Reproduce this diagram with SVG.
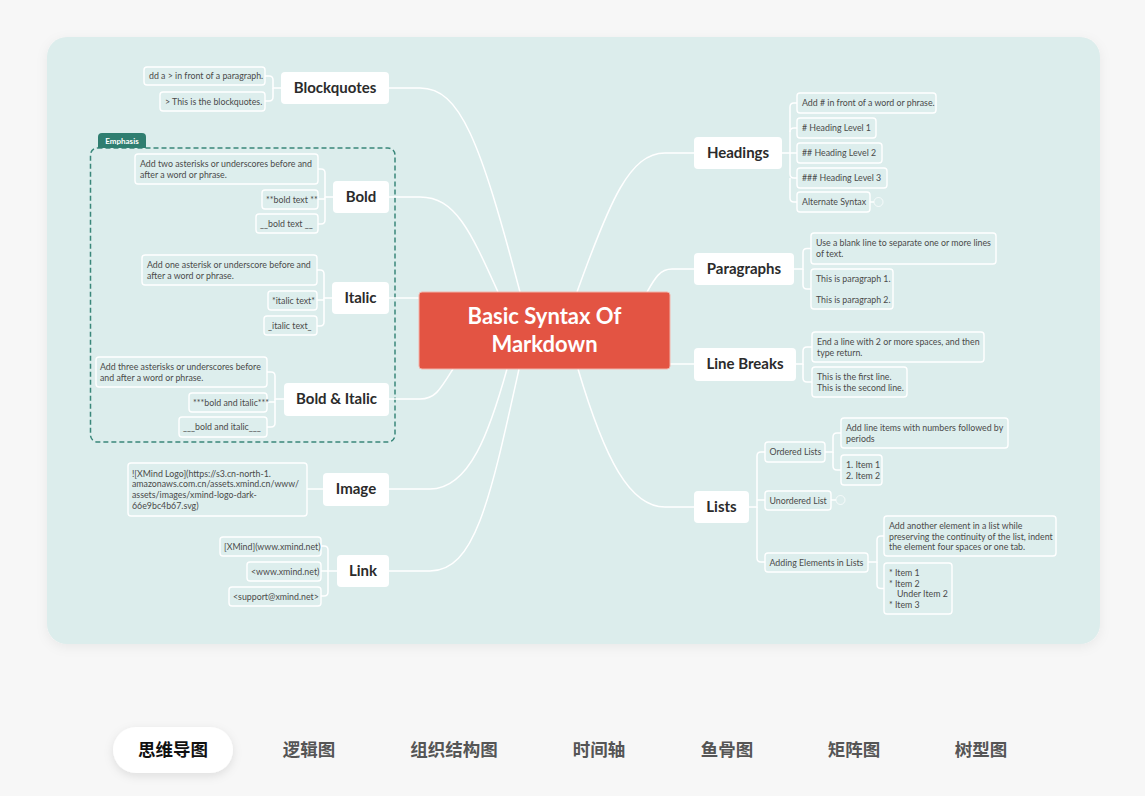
<svg xmlns="http://www.w3.org/2000/svg" width="1145" height="796" viewBox="0 0 1145 796">
<defs>
<filter id="sh" x="-10%" y="-10%" width="120%" height="130%">
<feDropShadow dx="0" dy="3" stdDeviation="6" flood-color="#000" flood-opacity="0.06"/>
</filter>
<filter id="sh2" x="-30%" y="-40%" width="160%" height="190%">
<feDropShadow dx="0" dy="3" stdDeviation="5" flood-color="#000" flood-opacity="0.10"/>
</filter>
<style>
.main rect{fill:#fff;}
.main text{font-family:Lato,"Open Sans",sans-serif;font-weight:700;font-size:15px;fill:#2b2b2b;text-anchor:middle;}
.leaf rect{fill:#ddeeed;stroke:#fff;stroke-width:1.4;}
.leaf text{font-family:Lato,"Open Sans",sans-serif;font-size:8.8px;fill:#4a4a4a;}
.conn path{fill:none;stroke:#fff;stroke-width:1.5;}
.tab{font-family:"Noto Sans CJK SC",sans-serif;font-weight:700;font-size:17.5px;text-anchor:middle;fill:#555;}
</style>
</defs>
<rect width="1145" height="796" fill="#f7f7f7"/>
<rect x="47" y="37" width="1053" height="607" rx="20" fill="#dcedec" filter="url(#sh)"/>

<!-- Emphasis boundary -->
<g id="emphasis-boundary">
<rect x="90.5" y="148" width="304.5" height="294" rx="7" fill="none" stroke="#3a877a" stroke-width="1.5" stroke-dasharray="5 3"/>
<path d="M98,148 V137 Q98,133 102,133 H142 Q146,133 146,137 V148 Z" fill="#2f7e70"/>
<text x="122" y="143.5" font-family="Lato,'Open Sans',sans-serif" font-size="8px" font-weight="700" fill="#fff" text-anchor="middle">Emphasis</text>
</g>

<g id="connectors" class="conn">
<!-- main branches -->
<path d="M520,292 C480,140 460,88 420,88 L389,88"/>
<path d="M498,292 C470,230 455,197 420,197 L389,197"/>
<path d="M419,298 L389,298"/>
<path d="M453,369 C440,390 435,399 420,399 L389,399"/>
<path d="M507,369 C490,430 470,489 430,489 L389,489"/>
<path d="M519,369 C490,500 475,571 430,571 L389,571"/>
<path d="M577,292 C610,200 630,153 665,153 L694,153"/>
<path d="M647,292 C655,278 660,269 672,269 L694,269"/>
<path d="M670,364 L694,364"/>
<path d="M578,369 C605,460 630,507 665,507 L694,507"/>
<!-- Blockquotes -->
<path d="M281,88 H273 V80 Q273,76 269,76 H265"/>
<path d="M273,88 V97 Q273,101 269,101 H265"/>
<!-- Bold -->
<path d="M333,197 H325 V173 Q325,169 321,169 H318"/>
<path d="M325,197 V220 Q325,224 321,224 H318"/>
<path d="M325,199 H318"/>
<!-- Italic -->
<path d="M332,298 H324 V274 Q324,270 320,270 H317"/>
<path d="M324,298 V322 Q324,326 320,326 H317"/>
<path d="M324,300 H317"/>
<!-- Bold & Italic -->
<path d="M284,399 H275 V376 Q275,372 271,372 H267"/>
<path d="M275,399 V423 Q275,427 271,427 H267"/>
<path d="M275,402 H267"/>
<!-- Image -->
<path d="M323,489 H307"/>
<!-- Link -->
<path d="M337,571 H328 V550 Q328,546 324,546 H321"/>
<path d="M328,571 V592 Q328,596 324,596 H321"/>
<path d="M328,571 H321"/>
<!-- Headings -->
<path d="M782,153 H790 V107 Q790,103 794,103 H797"/>
<path d="M790,132 Q790,128 794,128 H797"/>
<path d="M790,153 H797"/>
<path d="M790,153 V174 Q790,178 794,178 H797"/>
<path d="M790,178 V198 Q790,202 794,202 H797"/>
<path d="M870,202 H874"/>
<!-- Paragraphs -->
<path d="M794,269 H803 V252.5 Q803,248.5 807,248.5 H811"/>
<path d="M803,269 V285 Q803,289 807,289 H811"/>
<!-- Line Breaks -->
<path d="M796,364 H803 V351 Q803,347 807,347 H812"/>
<path d="M803,364 V378 Q803,382 807,382 H812"/>
<!-- Lists -->
<path d="M749,507 H757 V456 Q757,452 761,452 H765"/>
<path d="M757,500 H765"/>
<path d="M757,507 V558 Q757,562 761,562 H765"/>
<path d="M831,500 H836"/>
<!-- Ordered Lists -->
<path d="M825,452 H833 V437 Q833,433 837,433 H841"/>
<path d="M833,452 V466 Q833,470 837,470 H841"/>
<!-- Adding Elements -->
<path d="M868,562 H877 V540 Q877,536 881,536 H884"/>
<path d="M877,562 V584.5 Q877,588.5 881,588.5 H884"/>
</g>

<g id="collapse-markers" fill="none" stroke="#fff" stroke-opacity="0.7" stroke-width="1">
<circle cx="878.5" cy="202" r="4.5"/>
<circle cx="840.5" cy="500" r="4.5"/>
</g>

<!-- central -->
<g id="central">
<rect x="419" y="292" width="251" height="77" rx="3" fill="#e35443" stroke="#f3b3aa" stroke-width="1"/>
<text x="544.5" y="323.5" font-family="Lato,'Open Sans',sans-serif" font-weight="700" font-size="22px" fill="#fff" text-anchor="middle">Basic Syntax Of</text>
<text x="544.5" y="351.5" font-family="Lato,'Open Sans',sans-serif" font-weight="700" font-size="22px" fill="#fff" text-anchor="middle">Markdown</text>
</g>

<!-- main topics -->
<g id="blockquotes" class="main"><rect x="281" y="72" width="108" height="32" rx="4"/><text x="335" y="93">Blockquotes</text></g>
<g id="bold" class="main"><rect x="333" y="181" width="56" height="32" rx="4"/><text x="361" y="202">Bold</text></g>
<g id="italic" class="main"><rect x="332" y="282" width="57" height="32" rx="4"/><text x="360.5" y="303">Italic</text></g>
<g id="bold-italic" class="main"><rect x="284" y="383" width="105" height="33" rx="4"/><text x="336.5" y="404">Bold &amp; Italic</text></g>
<g id="image" class="main"><rect x="323" y="473" width="66" height="33" rx="4"/><text x="356" y="494">Image</text></g>
<g id="link" class="main"><rect x="337" y="555" width="52" height="32" rx="4"/><text x="363" y="576">Link</text></g>
<g id="headings" class="main"><rect x="694" y="137" width="88" height="32" rx="4"/><text x="738" y="158">Headings</text></g>
<g id="paragraphs" class="main"><rect x="694" y="253" width="100" height="32" rx="4"/><text x="744" y="274">Paragraphs</text></g>
<g id="line-breaks" class="main"><rect x="694" y="348" width="102" height="33" rx="4"/><text x="745" y="369">Line Breaks</text></g>
<g id="lists" class="main"><rect x="694" y="491" width="55" height="32" rx="4"/><text x="721.5" y="512">Lists</text></g>

<!-- leaves left -->
<g id="bq1" class="leaf"><rect x="144" y="67" width="121" height="18" rx="3"/><text x="149" y="79">dd a &gt; in front of a paragraph.</text></g>
<g id="bq2" class="leaf"><rect x="160" y="92" width="105" height="19" rx="3"/><text x="165" y="104.5">&gt; This is the blockquotes.</text></g>
<g id="b1" class="leaf"><rect x="135" y="154" width="183" height="30" rx="3"/><text x="140" y="167">Add two asterisks or underscores before and</text><text x="140" y="177.5">after a word or phrase.</text></g>
<g id="b2" class="leaf"><rect x="262" y="190" width="56" height="19" rx="3"/><text x="266" y="202.5">**bold text **</text></g>
<g id="b3" class="leaf"><rect x="256" y="214" width="62" height="19" rx="3"/><text x="260" y="227">__bold text __</text></g>
<g id="i1" class="leaf"><rect x="142" y="255" width="175" height="30" rx="3"/><text x="147" y="268">Add one asterisk or underscore before and</text><text x="147" y="278.5">after a word or phrase.</text></g>
<g id="i2" class="leaf"><rect x="268" y="291" width="49" height="19" rx="3"/><text x="272" y="303.5">*italic text*</text></g>
<g id="i3" class="leaf"><rect x="264" y="316" width="53" height="19" rx="3"/><text x="268" y="329">_italic text_</text></g>
<g id="bi1" class="leaf"><rect x="96" y="357" width="171" height="30" rx="3"/><text x="100" y="370">Add three asterisks or underscores before</text><text x="100" y="380.5">and after a word or phrase.</text></g>
<g id="bi2" class="leaf"><rect x="189" y="393" width="78" height="19" rx="3"/><text x="193" y="405.5">***bold and italic***</text></g>
<g id="bi3" class="leaf"><rect x="179" y="417" width="88" height="20" rx="3"/><text x="183" y="430">___bold and italic___</text></g>
<g id="img1" class="leaf"><rect x="128" y="463" width="179" height="53" rx="3"/><text x="132" y="476.5">![XMind Logo](https://s3.cn-north-1.</text><text x="132" y="487.2">amazonaws.com.cn/assets.xmind.cn/www/</text><text x="132" y="497.9">assets/images/xmind-logo-dark-</text><text x="132" y="508.6">66e9bc4b67.svg)</text></g>
<g id="ln1" class="leaf"><rect x="220" y="537" width="101" height="19" rx="3"/><text x="224" y="549.5">[XMind](www.xmind.net)</text></g>
<g id="ln2" class="leaf"><rect x="247" y="562" width="74" height="19" rx="3"/><text x="251" y="574.5">&lt;www.xmind.net)</text></g>
<g id="ln3" class="leaf"><rect x="229" y="587" width="92" height="19" rx="3"/><text x="233" y="599.5">&lt;support@xmind.net&gt;</text></g>

<!-- leaves right -->
<g id="h1" class="leaf"><rect x="797" y="93" width="139" height="20" rx="3"/><text x="802" y="106">Add # in front of a word or phrase.</text></g>
<g id="h2" class="leaf"><rect x="797" y="118" width="79" height="20" rx="3"/><text x="802" y="131"># Heading Level 1</text></g>
<g id="h3" class="leaf"><rect x="797" y="143" width="85" height="20" rx="3"/><text x="802" y="156">## Heading Level 2</text></g>
<g id="h4" class="leaf"><rect x="797" y="168" width="90" height="20" rx="3"/><text x="802" y="181">### Heading Level 3</text></g>
<g id="h5" class="leaf"><rect x="797" y="192" width="73" height="20" rx="3"/><text x="802" y="205">Alternate Syntax</text></g>
<g id="p1" class="leaf"><rect x="811" y="233" width="185" height="31" rx="3"/><text x="816" y="246">Use a blank line to separate one or more lines</text><text x="816" y="256.5">of text.</text></g>
<g id="p2" class="leaf"><rect x="811" y="269" width="82" height="40" rx="3"/><text x="816" y="282">This is paragraph 1.</text><text x="816" y="303">This is paragraph 2.</text></g>
<g id="lb1" class="leaf"><rect x="812" y="332" width="172" height="30" rx="3"/><text x="817" y="345">End a line with 2 or more spaces, and then</text><text x="817" y="355.5">type return.</text></g>
<g id="lb2" class="leaf"><rect x="812" y="367" width="95" height="30" rx="3"/><text x="817" y="380">This is the first line.</text><text x="817" y="390.5">This is the second line.</text></g>
<g id="ol" class="leaf"><rect x="765" y="442" width="60" height="20" rx="3"/><text x="769.5" y="455">Ordered Lists</text></g>
<g id="ol1" class="leaf"><rect x="841" y="418" width="167" height="30" rx="3"/><text x="846" y="431">Add line items with numbers followed by</text><text x="846" y="441.5">periods</text></g>
<g id="ol2" class="leaf"><rect x="841" y="455" width="41" height="30" rx="3"/><text x="846" y="468">1. Item 1</text><text x="846" y="478.5">2. Item 2</text></g>
<g id="ul" class="leaf"><rect x="765" y="491" width="66" height="19" rx="3"/><text x="769.5" y="503.5">Unordered List</text></g>
<g id="ae" class="leaf"><rect x="765" y="553" width="103" height="19" rx="3"/><text x="769.5" y="565.5">Adding Elements in Lists</text></g>
<g id="ae1" class="leaf"><rect x="884" y="516" width="172" height="40" rx="3"/><text x="889" y="529">Add another element in a list while</text><text x="889" y="539.5">preserving the continuity of the list, indent</text><text x="889" y="550">the element four spaces or one tab.</text></g>
<g id="ae2" class="leaf"><rect x="884" y="563" width="68" height="51" rx="3"/><text x="889" y="576">* Item 1</text><text x="889" y="586.5">* Item 2</text><text x="897" y="597">Under Item 2</text><text x="889" y="607.5">* Item 3</text></g>

<!-- bottom tabs -->
<g id="tabs">
<rect x="113" y="727" width="120" height="46" rx="23" fill="#fff" filter="url(#sh2)"/>
<text class="tab" x="173" y="756" style="fill:#111">思维导图</text>
<text class="tab" x="309" y="756">逻辑图</text>
<text class="tab" x="454" y="756">组织结构图</text>
<text class="tab" x="599" y="756">时间轴</text>
<text class="tab" x="727" y="756">鱼骨图</text>
<text class="tab" x="854" y="756">矩阵图</text>
<text class="tab" x="981" y="756">树型图</text>
</g>
</svg>
